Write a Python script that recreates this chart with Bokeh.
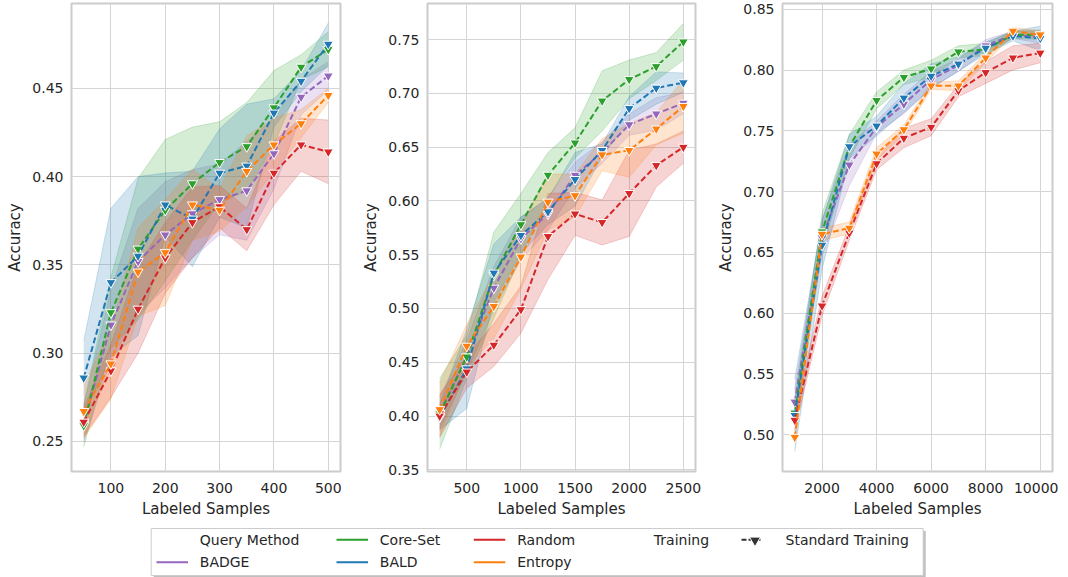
from bokeh.plotting import figure
from bokeh.layouts import column, row
from bokeh.models import Range1d, FixedTicker, NumeralTickFormatter
from bokeh.embed import file_html
from bokeh.resources import INLINE
from bokeh.core.properties import value

METHODS = ["BADGE", "Core-Set", "BALD", "Random", "Entropy"]
COLORS = {"BADGE": "#9467bd", "Core-Set": "#2ca02c", "BALD": "#1f77b4",
          "Random": "#d62728", "Entropy": "#ff7f0e"}

# ---- Panel 1 ----
X1 = [50, 100, 150, 200, 250, 300, 350, 400, 450, 500]
MEAN1 = {
    "BADGE":    [0.260, 0.316, 0.352, 0.367, 0.379, 0.387, 0.392, 0.413, 0.445, 0.457],
    "Core-Set": [0.259, 0.323, 0.359, 0.381, 0.396, 0.408, 0.417, 0.439, 0.462, 0.472],
    "BALD":     [0.286, 0.340, 0.355, 0.384, 0.376, 0.402, 0.406, 0.436, 0.454, 0.475],
    "Random":   [0.261, 0.290, 0.325, 0.354, 0.374, 0.383, 0.370, 0.402, 0.418, 0.414],
    "Entropy":  [0.267, 0.294, 0.346, 0.357, 0.384, 0.381, 0.403, 0.418, 0.430, 0.446],
}
CI1 = {
    "BADGE":    [0.010, 0.020, 0.030, 0.030, 0.025, 0.020, 0.028, 0.020, 0.010, 0.008],
    "Core-Set": [0.012, 0.020, 0.040, 0.040, 0.032, 0.023, 0.025, 0.021, 0.007, 0.010],
    "BALD":     [0.021, 0.042, 0.045, 0.018, 0.027, 0.025, 0.035, 0.008, 0.006, 0.012],
    "Random":   [0.008, 0.015, 0.025, 0.020, 0.020, 0.012, 0.012, 0.018, 0.015, 0.018],
    "Entropy":  [0.015, 0.020, 0.025, 0.030, 0.020, 0.012, 0.020, 0.015, 0.008, 0.004],
}
XT1 = [100, 200, 300, 400, 500]
YT1 = [0.25, 0.30, 0.35, 0.40, 0.45]

# ---- Panel 2 ----
X2 = [250, 500, 750, 1000, 1250, 1500, 1750, 2000, 2250, 2500]
MEAN2 = {
    "BADGE":    [0.403, 0.455, 0.519, 0.565, 0.588, 0.624, 0.645, 0.671, 0.681, 0.691],
    "Core-Set": [0.402, 0.455, 0.531, 0.578, 0.624, 0.654, 0.693, 0.713, 0.725, 0.748],
    "BALD":     [0.399, 0.444, 0.533, 0.568, 0.590, 0.620, 0.647, 0.686, 0.705, 0.710],
    "Random":   [0.400, 0.441, 0.466, 0.499, 0.567, 0.588, 0.580, 0.607, 0.633, 0.650],
    "Entropy":  [0.406, 0.465, 0.502, 0.548, 0.599, 0.605, 0.643, 0.647, 0.667, 0.688],
}
CI2 = {
    "BADGE":    [0.015, 0.015, 0.020, 0.020, 0.015, 0.012, 0.010, 0.010, 0.015, 0.010],
    "Core-Set": [0.033, 0.020, 0.040, 0.029, 0.021, 0.014, 0.028, 0.018, 0.013, 0.017],
    "BALD":     [0.012, 0.037, 0.027, 0.017, 0.012, 0.025, 0.006, 0.011, 0.015, 0.009],
    "Random":   [0.020, 0.015, 0.020, 0.022, 0.040, 0.020, 0.021, 0.040, 0.020, 0.015],
    "Entropy":  [0.025, 0.020, 0.030, 0.030, 0.026, 0.020, 0.015, 0.025, 0.015, 0.025],
}
XT2 = [500, 1000, 1500, 2000, 2500]
YT2 = [0.35, 0.40, 0.45, 0.50, 0.55, 0.60, 0.65, 0.70, 0.75]

# ---- Panel 3 ----
X3 = [1000, 2000, 3000, 4000, 5000, 6000, 7000, 8000, 9000, 10000]
MEAN3 = {
    "BADGE":    [0.527, 0.662, 0.722, 0.753, 0.772, 0.792, 0.804, 0.820, 0.829, 0.827],
    "Core-Set": [0.518, 0.667, 0.737, 0.775, 0.794, 0.801, 0.815, 0.817, 0.829, 0.829],
    "BALD":     [0.516, 0.656, 0.737, 0.754, 0.777, 0.795, 0.805, 0.818, 0.828, 0.826],
    "Random":   [0.512, 0.606, 0.666, 0.723, 0.744, 0.753, 0.783, 0.798, 0.810, 0.814],
    "Entropy":  [0.498, 0.665, 0.670, 0.731, 0.751, 0.787, 0.787, 0.810, 0.832, 0.829],
}
CI3 = {
    "BADGE":    [0.010, 0.015, 0.017, 0.005, 0.008, 0.007, 0.005, 0.005, 0.003, 0.005],
    "Core-Set": [0.010, 0.015, 0.010, 0.007, 0.006, 0.007, 0.005, 0.005, 0.003, 0.004],
    "BALD":     [0.030, 0.020, 0.010, 0.008, 0.012, 0.010, 0.006, 0.005, 0.004, 0.010],
    "Random":   [0.008, 0.008, 0.006, 0.005, 0.008, 0.007, 0.005, 0.009, 0.010, 0.008],
    "Entropy":  [0.005, 0.005, 0.005, 0.005, 0.004, 0.003, 0.004, 0.004, 0.003, 0.003],
}
XT3 = [2000, 4000, 6000, 8000, 10000]
YT3 = [0.50, 0.55, 0.60, 0.65, 0.70, 0.75, 0.80, 0.85]

X_LABEL = "Labeled Samples"
Y_LABEL = "Accuracy"
LEGEND_TITLE_1 = "Query Method"
LEGEND_TITLE_2 = "Training"
LEGEND_STYLE = "Standard Training"

FONT = "DejaVu Sans"
TXT = "#262626"
FRAME_H = 468
TOP = 3
BOTTOM = 53


def make_panel(x, means, cis, xr, yr, xt, yt, fw, left, right):
    p = figure(frame_width=fw, frame_height=FRAME_H,
               x_range=Range1d(*xr), y_range=Range1d(*yr),
               output_backend="svg", toolbar_location=None,
               min_border_left=left, min_border_right=right,
               min_border_top=TOP, min_border_bottom=BOTTOM,
               background_fill_color="white", border_fill_color="white")
    p.outline_line_color = "#cccccc"
    p.outline_line_width = 2
    for ax in (p.xaxis[0], p.yaxis[0]):
        ax.axis_line_color = None
        ax.major_tick_line_color = None
        ax.minor_tick_line_color = None
        ax.major_tick_out = 0
        ax.major_tick_in = 0
        ax.major_label_text_font = FONT
        ax.major_label_text_font_size = "14px"
        ax.major_label_text_color = TXT
        ax.axis_label_text_font = FONT
        ax.axis_label_text_font_size = "15px"
        ax.axis_label_text_font_style = "normal"
        ax.axis_label_text_color = TXT
    p.xaxis.ticker = FixedTicker(ticks=xt)
    p.yaxis.ticker = FixedTicker(ticks=yt)
    p.xaxis.formatter = NumeralTickFormatter(format="0")
    p.yaxis.formatter = NumeralTickFormatter(format="0.00")
    p.xaxis.axis_label = X_LABEL
    p.yaxis.axis_label = Y_LABEL
    p.xaxis.major_label_standoff = 11
    p.xaxis.axis_label_standoff = 4
    p.yaxis.major_label_standoff = 8
    p.yaxis.axis_label_standoff = 5
    p.grid.grid_line_color = "#d5d5d5"
    p.grid.grid_line_width = 1
    p.xgrid.ticker = FixedTicker(ticks=xt)
    p.ygrid.ticker = FixedTicker(ticks=yt)

    for m in METHODS:
        lo = [a - b for a, b in zip(means[m], cis[m])]
        hi = [a + b for a, b in zip(means[m], cis[m])]
        p.varea(x=x, y1=lo, y2=hi, fill_color=COLORS[m], fill_alpha=0.2)
        p.line(x, lo, line_color=COLORS[m], line_alpha=0.2, line_width=1)
        p.line(x, hi, line_color=COLORS[m], line_alpha=0.2, line_width=1)
    for m in METHODS:
        p.line(x, means[m], line_color=COLORS[m], line_width=2, line_dash="6 3")
        p.scatter(x, means[m], marker="inverted_triangle", size=10,
                  fill_color=COLORS[m], line_color="white", line_width=1)
    return p


p1 = make_panel(X1, MEAN1, CI1, (27.5, 522.5), (0.233, 0.498), XT1, YT1, 269, 71, 10)
p2 = make_panel(X2, MEAN2, CI2, (137.5, 2612.5), (0.3484, 0.7836), XT2, YT2, 268, 77, 10)
p3 = make_panel(X3, MEAN3, CI3, (550, 10450), (0.4698, 0.8547), XT3, YT3, 270, 77, 6)

# ---- Legend (drawn in pixel units of its own small canvas) ----
LW, LH = 1058, 53
lg = figure(frame_width=LW, frame_height=LH, x_range=Range1d(0, LW), y_range=Range1d(LH, 0),
            x_axis_type=None, y_axis_type=None, output_backend="svg", toolbar_location=None,
            min_border=0, background_fill_color="white", border_fill_color="white")
lg.grid.visible = False
lg.outline_line_color = None

bx0, bx1, by0, by1 = 150.7, 922.7, 4, 51
lg.quad(left=[bx0 + 2.5], right=[bx1 + 2.5], top=[by0 + 2.5], bottom=[by1 + 2],
        fill_color="#7f7f7f", fill_alpha=0.5, line_color=None)
lg.quad(left=[bx0], right=[bx1], top=[by0], bottom=[by1],
        fill_color="white", line_color="#cccccc", line_width=1)

r1, r2 = 15.3, 37.7
seg_x0 = [156, 336, 336, 473.3, 473.3]
seg_y = [r2, r1, r2, r1, r2]
seg_m = ["BADGE", "Core-Set", "BALD", "Random", "Entropy"]
lg.segment(x0=seg_x0, y0=seg_y, x1=[v + 31.5 for v in seg_x0], y1=seg_y,
           line_color=[COLORS[m] for m in seg_m], line_width=2)
lg.segment(x0=[741], y0=[r1], x1=[762], y1=[r1], line_color="#333333", line_width=2, line_dash="5 2")
lg.scatter(x=[754.5], y=[r1 + 0.5], marker="inverted_triangle", size=11,
           fill_color="#333333", line_color="white", line_width=1)

lg.text(x=[199.3, 199.3, 379.3, 379.3, 516.7, 516.7, 653.3, 785],
        y=[r1, r2, r1, r2, r1, r2, r1, r1],
        text=[LEGEND_TITLE_1, "BADGE", "Core-Set", "BALD", "Random", "Entropy",
              LEGEND_TITLE_2, LEGEND_STYLE],
        text_font=value(FONT), text_font_size="14px", text_color=TXT,
        text_baseline="middle", text_align="left")

layout = column(row(p1, p2, p3), lg)
open("out.html", "w").write(file_html(layout, INLINE))
